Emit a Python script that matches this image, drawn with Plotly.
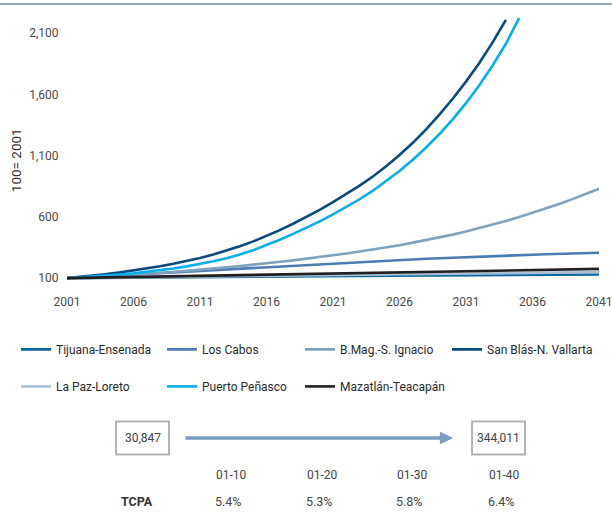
import plotly.graph_objects as go

# ---------------- data ----------------
years = list(range(2001, 2042))

tijuana = [100, 101, 102, 102, 103, 104, 105, 105, 106, 107,
           108, 109, 109, 110, 111, 112, 112, 113, 114, 115,
           115, 116, 117, 118, 118, 119, 120, 121, 121, 122,
           123, 124, 124, 125, 126, 127, 127, 128, 129, 129, 130]
los_cabos = [100, 106, 112, 118, 124, 129, 134, 140, 147, 154,
             160, 166, 172, 178, 183, 188, 193, 200, 207, 214,
             221, 227, 233, 238, 243, 248, 253, 258, 262, 267,
             271, 275, 279, 283, 287, 291, 295, 298, 301, 304, 307]
bmag = [100, 105, 110, 116, 122, 128, 135, 142, 150, 159,
        168, 178, 188, 198, 208, 220, 233, 245, 258, 271,
        285, 301, 318, 334, 350, 369, 390, 410, 432, 455,
        480, 507, 535, 566, 600, 634, 670, 706, 745, 787, 830]
san_blas = [100, 110, 121, 134, 147, 162, 179, 197, 217, 239,
            264, 293, 325, 360, 400, 444, 492, 544, 600, 658,
            720, 786, 855, 930, 1013, 1105, 1205, 1315, 1435, 1565,
            1705, 1857, 2025, 2210]
la_paz = [100, 101, 103, 104, 105, 106, 108, 109, 110, 111,
          113, 114, 115, 116, 118, 119, 120, 121, 122, 124,
          125, 126, 127, 128, 129, 131, 132, 133, 134, 135,
          137, 138, 139, 140, 141, 142, 144, 145, 146, 147, 149]
puerto = [100, 106, 113, 121, 130, 140, 151, 164, 179, 196,
          216, 238, 263, 292, 328, 368, 413, 461, 511, 564,
          620, 680, 744, 814, 891, 975, 1067, 1167, 1277, 1397,
          1529, 1676, 1837, 2014, 2225]
mazatlan = [100, 102, 105, 107, 109, 111, 113, 116, 118, 120,
            122, 124, 126, 128, 129, 131, 133, 135, 137, 138,
            140, 142, 144, 146, 148, 149, 151, 153, 155, 157,
            158, 160, 162, 164, 166, 167, 169, 171, 173, 174, 175]

series_names = ["Tijuana-Ensenada", "Los Cabos", "B.Mag.-S. Ignacio", "San Blás-N. Vallarta",
                "La Paz-Loreto", "Puerto Peñasco", "Mazatlán-Teacapán"]
series_values = [tijuana, los_cabos, bmag, san_blas, la_paz, puerto, mazatlan]
series_colors = ["#0c66a1", "#4b7db3", "#7fa3bf", "#0b4a7d", "#a9c0d3", "#08aeea", "#231f20"]

y_ticks = [100, 600, 1100, 1600, 2100]
x_ticks = [2001, 2006, 2011, 2016, 2021, 2026, 2031, 2036, 2041]

start_value = "30,847"
end_value = "344,011"
periods = ["01-10", "01-20", "01-30", "01-40"]
tcpa = ["5.4%", "5.3%", "5.8%", "6.4%"]

# ---------------- layout geometry ----------------
W, H = 612, 515
L, R, T = 67, 13, 10
PLOT_BOTTOM = 282.7
B = H - PLOT_BOTTOM
PW = W - L - R
PH = PLOT_BOTTOM - T


def px(x):
    return (x - L) / PW


def py(y):
    return (PLOT_BOTTOM - y) / PH


FONT = "Roboto, 'Noto Sans', sans-serif"

# legend slot (text start x, row centre y) for each series
legend_slots = [(58, 349), (204, 349), (342, 349), (489, 349),
                (58, 386), (204, 386), (342, 386)]

fig = go.Figure()
legend_layouts = {}
for i, (name, vals, col) in enumerate(zip(series_names, series_values, series_colors)):
    lg = "legend" if i == 0 else f"legend{i + 1}"
    fig.add_trace(go.Scatter(
        x=years[:len(vals)], y=vals, mode="lines", name=name,
        line=dict(color=col, width=2.6),
        legend=lg,
    ))
    tx, ty = legend_slots[i]
    legend_layouts[lg] = dict(
        x=px(tx - 42), y=py(ty), xanchor="left", yanchor="middle",
        font=dict(size=12, color="#2b2b2b"), bgcolor="rgba(0,0,0,0)",
        borderwidth=0,
    )

fig.update_layout(
    width=W, height=H,
    margin=dict(l=L, r=R, t=T, b=B, autoexpand=False),
    paper_bgcolor="white", plot_bgcolor="white",
    font=dict(family=FONT, size=12, color="#4a4a4a"),
    xaxis=dict(range=[2001, 2041], tickvals=x_ticks, tickformat="d",
               showgrid=False, zeroline=False, showline=False,
               ticks="outside", ticklen=8, tickcolor="rgba(0,0,0,0)",
               ticklabeloverflow="allow",
               tickfont=dict(size=12, color="#4a4a4a"), automargin=False),
    yaxis=dict(range=[60, 2290], tickvals=y_ticks, tickformat=",",
               showgrid=False, zeroline=False, showline=False,
               ticks="outside", ticklen=5, tickcolor="rgba(0,0,0,0)",
               tickfont=dict(size=12, color="#4a4a4a"), automargin=False),
    showlegend=True,
    **legend_layouts,
)

shapes = [
    dict(type="line", xref="paper", yref="paper", x0=px(0), x1=px(W), y0=py(4), y1=py(4),
         line=dict(color="#8eaabd", width=2)),
    dict(type="rect", xref="paper", yref="paper", x0=px(116), x1=px(169), y0=py(454), y1=py(421),
         line=dict(color="#b3b3b3", width=2)),
    dict(type="rect", xref="paper", yref="paper", x0=px(472), x1=px(525), y0=py(454), y1=py(421),
         line=dict(color="#b3b3b3", width=2)),
]
fig.update_layout(shapes=shapes)


def label(text, x, y, size=12, color="#444444", angle=0):
    return dict(text=text, xref="paper", yref="paper", x=px(x), y=py(y),
                xanchor="center", yanchor="middle", textangle=angle,
                showarrow=False, font=dict(size=size, color=color))


ann = [
    label("100= 2001", 16, 160, size=13.5, color="#333333", angle=-90),
    label(start_value, 142.5, 437.5, size=12),
    label(end_value, 498.5, 437.5, size=12),
    dict(text="", xref="paper", yref="paper", x=px(453), y=py(437.5), ax=-(453 - 184), ay=0,
         showarrow=True, arrowhead=2, arrowwidth=3.5, arrowsize=0.75, arrowcolor="#7b9dc2"),
    label("<b>TCPA</b>", 137, 501, size=12.5, color="#333333"),
]
period_x = [231, 322, 412, 504]
for xx, p, t in zip(period_x, periods, tcpa):
    ann.append(label(p, xx, 474, size=12))
    ann.append(label(t, xx - 3, 501, size=12.5))
fig.update_layout(annotations=ann)

fig.write_html("out.html", config={"displayModeBar": False},
               post_script="document.body.style.margin='0';")
